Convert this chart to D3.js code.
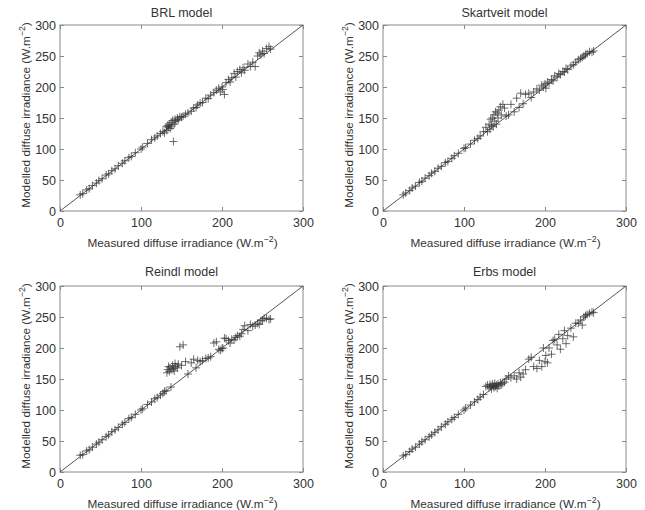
<!DOCTYPE html>
<html>
<head>
<meta charset="utf-8">
<script src="https://cdn.jsdelivr.net/npm/d3@7"></script>
<style>
  html, body { margin: 0; padding: 0; background: #fff; }
  svg { display: block; font-family: "Liberation Sans", Arial, Helvetica, sans-serif; }
  .tick text { fill: #333; font-size: 12.5px; }
  .tick line { stroke: #8a8a8a; stroke-width: 1; }
</style>
</head>
<body>
<svg id="chart" width="645" height="510"></svg>
<script>
// Measured diffuse irradiance (W.m-2), shared by all four models
const measured = [25, 28, 33, 36, 40, 45, 48, 52, 57, 60, 64, 68, 72, 77, 80, 85, 88, 93, 100, 102,
  108, 113, 117, 120, 124, 127, 129, 131, 132, 133, 134, 135, 136, 137, 138, 139, 140, 141, 142, 143,
  145, 146, 148, 150, 152, 155, 158, 162, 165, 168, 170, 173, 176, 180, 183, 186, 190, 193, 196, 198,
  200, 201, 203, 205, 208, 210, 212, 215, 217, 219, 222, 224, 226, 228, 232, 235, 238, 241, 244, 246,
  248, 250, 252, 255, 258, 260];

// Modelled diffuse irradiance for each model (W.m-2)
const brlModel = [26, 28, 34, 36, 41, 45, 49, 52, 58, 60, 65, 68, 73, 77, 81, 86, 88, 94, 100, 103,
  109, 115, 118, 121, 125, 128, 126, 136, 130, 138, 135, 140, 133, 143, 137, 146, 112, 140, 148, 145,
  150, 147, 152, 151, 153, 156, 158, 161, 166, 167, 171, 174, 175, 182, 181, 187, 191, 195, 198, 192,
  200, 196, 188, 207, 212, 208, 215, 222, 216, 225, 228, 223, 231, 227, 237, 233, 240, 233, 250, 255,
  252, 258, 254, 262, 265, 261];

const skartveitModel = [26, 29, 33, 37, 40, 46, 48, 53, 57, 61, 64, 69, 72, 78, 80, 85, 89, 93, 101, 102,
  108, 114, 117, 121, 128, 135, 128, 140, 132, 148, 138, 150, 136, 155, 145, 160, 140, 158, 150, 163,
  168, 155, 172, 166, 153, 155, 172, 160, 182, 167, 190, 173, 188, 190, 183, 192, 197, 195, 203, 200,
  205, 198, 208, 206, 212, 210, 218, 216, 222, 220, 225, 224, 230, 228, 234, 236, 240, 244, 246, 248,
  250, 252, 254, 257, 256, 258];

const reindlModel = [27, 28, 34, 36, 40, 45, 48, 52, 57, 60, 65, 68, 72, 77, 80, 86, 88, 93, 100, 102,
  109, 113, 118, 120, 124, 127, 130, 131, 160, 165, 170, 162, 168, 137, 165, 172, 167, 163, 175, 170,
  168, 174, 202, 172, 205, 178, 158, 176, 182, 168, 180, 178, 180, 183, 184, 186, 208, 210, 198, 196,
  199, 200, 216, 215, 212, 208, 214, 213, 217, 220, 219, 223, 230, 236, 228, 238, 235, 237, 240, 238,
  244, 245, 248, 248, 246, 247];

const erbsModel = [26, 28, 33, 37, 40, 45, 49, 52, 57, 60, 64, 68, 73, 77, 81, 85, 88, 93, 100, 103,
  108, 113, 117, 121, 125, 138, 140, 136, 141, 138, 134, 142, 139, 136, 143, 138, 140, 135, 142, 139,
  144, 141, 143, 145, 150, 155, 152, 155, 150, 160, 153, 158, 165, 182, 185, 170, 167, 180, 170, 200,
  178, 188, 176, 200, 190, 212, 214, 205, 222, 198, 215, 228, 207, 220, 232, 218, 240, 240, 245, 237,
  250, 252, 254, 256, 258, 257];

const modelTitles = ["BRL model", "Skartveit model", "Reindl model", "Erbs model"];
const modelSeries = [brlModel, skartveitModel, reindlModel, erbsModel];

const xTickValues = [0, 100, 200, 300];
const yTickValues = [0, 50, 100, 150, 200, 250, 300];
const axisDomain = [0, 300];

// Panel frames: left column / right column, top row / bottom row
const panelLefts = [60, 383];
const panelTops = [25, 286];
const panelWidth = 243;
const panelHeight = 186;
const labelSize = 11.8;

const svg = d3.select("#chart");

modelTitles.forEach((title, i) => {
  const col = i % 2, row = Math.floor(i / 2);
  const g = svg.append("g")
    .attr("transform", `translate(${panelLefts[col]},${panelTops[row]})`);

  const x = d3.scaleLinear().domain(axisDomain).range([0, panelWidth]);
  const y = d3.scaleLinear().domain(axisDomain).range([panelHeight, 0]);

  // inward ticks on all four sides, labels only on bottom and left
  const bottom = g.append("g").attr("transform", `translate(0,${panelHeight})`)
    .call(d3.axisBottom(x).tickValues(xTickValues).tickSize(-4).tickPadding(7));
  const left = g.append("g")
    .call(d3.axisLeft(y).tickValues(yTickValues).tickSize(-4).tickPadding(4));
  const top = g.append("g")
    .call(d3.axisTop(x).tickValues(xTickValues).tickSize(-4).tickFormat(""));
  const right = g.append("g").attr("transform", `translate(${panelWidth},0)`)
    .call(d3.axisRight(y).tickValues(yTickValues).tickSize(-4).tickFormat(""));
  [bottom, left, top, right].forEach(a => a.select(".domain").remove());

  // frame
  g.append("rect")
    .attr("x", 0).attr("y", 0)
    .attr("width", panelWidth).attr("height", panelHeight)
    .attr("fill", "none").attr("stroke", "#8a8a8a").attr("stroke-width", 1);

  // 1:1 reference line
  g.append("line")
    .attr("x1", x(axisDomain[0])).attr("y1", y(axisDomain[0]))
    .attr("x2", x(axisDomain[1])).attr("y2", y(axisDomain[1]))
    .attr("stroke", "#555").attr("stroke-width", 1);

  // '+' markers
  const pts = measured.map((m, k) => [m, modelSeries[i][k]]);
  const r = 4;
  g.append("path")
    .attr("fill", "none")
    .attr("stroke", "#333")
    .attr("stroke-opacity", 0.8)
    .attr("stroke-width", 0.9)
    .attr("d", pts.map(([mx, my]) => {
      const px = x(mx), py = y(my);
      return `M${px - r},${py}H${px + r}M${px},${py - r}V${py + r}`;
    }).join(""));

  // title
  g.append("text")
    .attr("x", panelWidth / 2).attr("y", row === 0 ? -8 : -10)
    .attr("text-anchor", "middle")
    .attr("fill", "#333").attr("font-size", 12.5)
    .text(title);

  // x label
  const xl = g.append("text")
    .attr("x", panelWidth / 2 + 1).attr("y", panelHeight + 36)
    .attr("text-anchor", "middle")
    .attr("fill", "#333").attr("font-size", labelSize);
  xl.append("tspan").text("Measured diffuse irradiance (W.m");
  xl.append("tspan").attr("dy", -5).attr("font-size", 8.8).text("−2");
  xl.append("tspan").attr("dy", 5).text(")");

  // y label
  const yl = g.append("text")
    .attr("transform", `translate(-30,${panelHeight / 2 - 3}) rotate(-90)`)
    .attr("text-anchor", "middle")
    .attr("fill", "#333").attr("font-size", labelSize);
  yl.append("tspan").text("Modelled diffuse irradiance (W.m");
  yl.append("tspan").attr("dy", -5).attr("font-size", 8.8).text("−2");
  yl.append("tspan").attr("dy", 5).text(")");
});
</script>
</body>
</html>
